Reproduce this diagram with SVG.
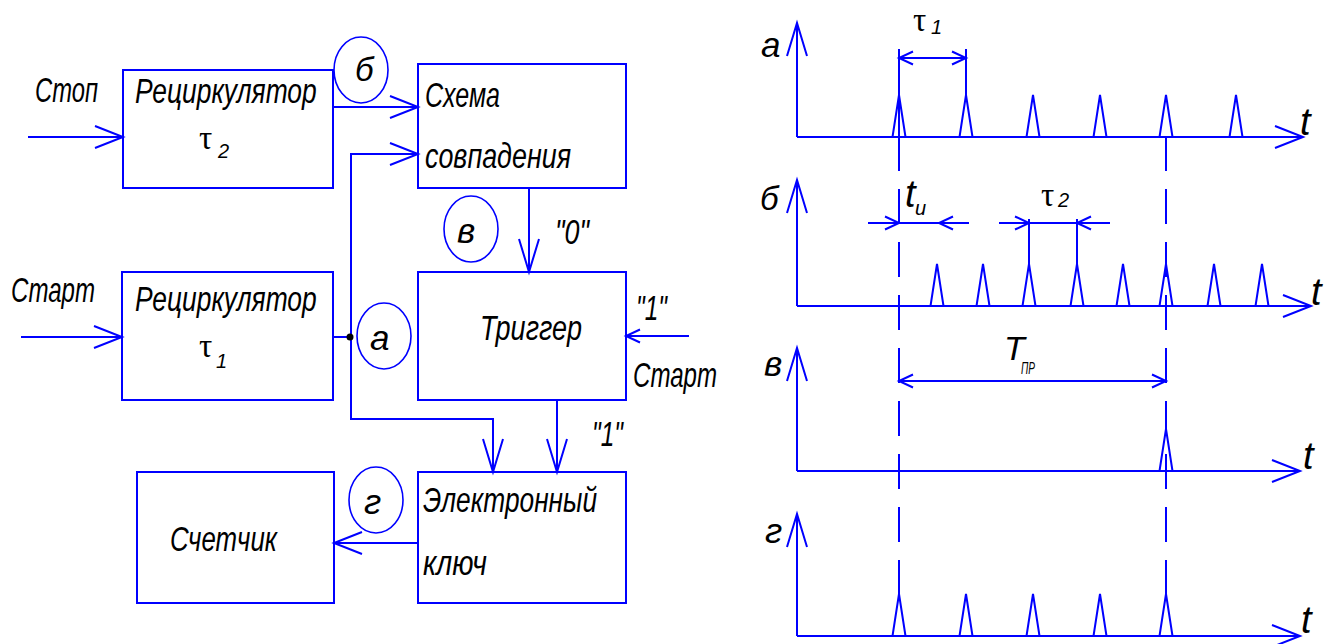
<svg xmlns="http://www.w3.org/2000/svg" width="1327" height="644" viewBox="0 0 1327 644">
<style>
.ln{stroke:#0000ff;stroke-width:2;fill:none}
.bx{stroke:#0000ff;stroke-width:2;fill:none}
.cr{stroke:#0000ff;stroke-width:1.6;fill:none}
.dash{stroke:#0000ff;stroke-width:2;fill:none;stroke-dasharray:35 18}
.t{font-family:"Liberation Sans Narrow","Liberation Sans","DejaVu Sans",sans-serif;font-style:italic;font-size:35px;fill:#000}
.ts{font-family:"Liberation Sans Narrow","Liberation Sans","DejaVu Sans",sans-serif;font-style:italic;font-size:20px;fill:#000}
.tau{font-family:"Liberation Serif","DejaVu Serif",serif;font-size:33px;fill:#000}
.tl{font-family:"Liberation Sans Narrow","Liberation Sans","DejaVu Sans",sans-serif;font-style:italic;font-size:38px;fill:#000}
</style>
<defs>
<marker id="aL" markerUnits="userSpaceOnUse" orient="auto" overflow="visible" markerWidth="30" markerHeight="24" refX="0" refY="0"><path d="M-28,-11 L0,0 L-28,11" fill="none" stroke="#0000ff" stroke-width="2"/></marker>
<marker id="aD" markerUnits="userSpaceOnUse" orient="auto" overflow="visible" markerWidth="34" markerHeight="22" refX="0" refY="0"><path d="M-33,-10 L0,0 L-33,10" fill="none" stroke="#0000ff" stroke-width="2"/></marker>
<marker id="aS" markerUnits="userSpaceOnUse" orient="auto" overflow="visible" markerWidth="16" markerHeight="14" refX="0" refY="0"><path d="M-14,-6.5 L0,0 L-14,6.5" fill="none" stroke="#0000ff" stroke-width="2"/></marker>
<marker id="aSS" markerUnits="userSpaceOnUse" orient="auto-start-reverse" overflow="visible" markerWidth="16" markerHeight="14" refX="0" refY="0"><path d="M-14,-6.5 L0,0 L-14,6.5" fill="none" stroke="#0000ff" stroke-width="2"/></marker>
<path id="p42" d="M-6.5,0 L0,-42 L6.5,0" fill="none" stroke="#0000ff" stroke-width="2"/>
</defs>

<!-- Block diagram nodes -->
<g id="rec2">
<rect class="bx" x="123" y="70" width="210" height="118"/>
<text class="t" transform="translate(135,103) scale(0.79,1)" x="0" y="0" textLength="230" lengthAdjust="spacingAndGlyphs">Рециркулятор</text>
<text class="tau" x="199" y="149">τ</text>
<text class="ts" x="218" y="158">2</text>
</g>
<g id="rec1">
<rect class="bx" x="122" y="272" width="211" height="128"/>
<text class="t" transform="translate(135,311) scale(0.79,1)" x="0" y="0" textLength="230" lengthAdjust="spacingAndGlyphs">Рециркулятор</text>
<text class="tau" x="199" y="357">τ</text>
<text class="ts" x="216" y="368">1</text>
</g>
<g id="coinc">
<rect class="bx" x="418" y="64" width="208" height="124"/>
<text class="t" x="425" y="107" textLength="75" lengthAdjust="spacingAndGlyphs">Схема</text>
<text class="t" x="425" y="168" textLength="146" lengthAdjust="spacingAndGlyphs">совпадения</text>
</g>
<g id="trigger">
<rect class="bx" x="418" y="272" width="208" height="128"/>
<text class="t" x="480" y="340" textLength="102" lengthAdjust="spacingAndGlyphs">Триггер</text>
</g>
<g id="key">
<rect class="bx" x="418" y="472" width="208" height="131"/>
<text class="t" x="423" y="512" textLength="174" lengthAdjust="spacingAndGlyphs">Электронный</text>
<text class="t" x="423" y="575" textLength="64" lengthAdjust="spacingAndGlyphs">ключ</text>
</g>
<g id="counter">
<rect class="bx" x="137" y="472" width="197" height="131"/>
<text class="t" x="170" y="551" textLength="107" lengthAdjust="spacingAndGlyphs">Счетчик</text>
</g>

<g id="labels">
<text class="t" x="35" y="102" textLength="63" lengthAdjust="spacingAndGlyphs">Стоп</text>
<text class="t" x="11" y="302" textLength="84" lengthAdjust="spacingAndGlyphs">Старт</text>
<text class="t" x="633" y="387" textLength="84" lengthAdjust="spacingAndGlyphs">Старт</text>
<text class="t" x="555" y="244" textLength="34" lengthAdjust="spacingAndGlyphs">"0"</text>
<text class="t" x="636" y="320" textLength="31" lengthAdjust="spacingAndGlyphs">"1"</text>
<text class="t" x="592" y="446" textLength="31" lengthAdjust="spacingAndGlyphs">"1"</text>
</g>

<g id="markers-circles">
<ellipse class="cr" cx="361" cy="70" rx="27" ry="33"/>
<text class="t" x="355" y="81" style="font-size:33px">б</text>
<ellipse class="cr" cx="471" cy="229" rx="27" ry="33"/>
<text class="t" x="457" y="243">в</text>
<ellipse class="cr" cx="384" cy="336" rx="27" ry="33"/>
<text class="t" x="370" y="350">а</text>
<ellipse class="cr" cx="376" cy="500" rx="27" ry="33"/>
<text class="t" x="364" y="514">г</text>
</g>

<g id="connectors">
<path class="ln" d="M28,137 H123" marker-end="url(#aL)"/>
<path class="ln" d="M333,107 H418" marker-end="url(#aL)"/>
<path class="ln" d="M351,337 V154 H418" marker-end="url(#aL)"/>
<path class="ln" d="M333,337 H351 V419 H493 V472" marker-end="url(#aD)"/>
<circle cx="350" cy="337" r="3.5" fill="#000"/>
<path class="ln" d="M21,337 H122" marker-end="url(#aL)"/>
<path class="ln" d="M529,188 V272" marker-end="url(#aD)"/>
<path class="ln" d="M689,336 H626" marker-end="url(#aS)"/>
<path class="ln" d="M557,400 V472" marker-end="url(#aD)"/>
<path class="ln" d="M418,543 H334" marker-end="url(#aL)"/>
</g>

<!-- Timing diagrams -->
<g id="chart-a">
<path class="ln" d="M797,137 V23" marker-end="url(#aD)"/>
<path class="ln" d="M797,137 H1303" marker-end="url(#aL)"/>
<text class="t" x="761" y="57">а</text>
<text class="tl" x="1300" y="135">t</text>
<use href="#p42" x="899" y="137"/><use href="#p42" x="966" y="137"/><use href="#p42" x="1033" y="137"/>
<use href="#p42" x="1100" y="137"/><use href="#p42" x="1166" y="137"/><use href="#p42" x="1236" y="137"/>
<path class="ln" d="M899,49 V137 M966,49 V95"/>
<path class="ln" d="M899,58 H966" marker-start="url(#aSS)" marker-end="url(#aSS)"/>
<text class="tau" x="913" y="31">τ</text>
<text class="ts" x="931" y="34">1</text>
</g>
<g id="chart-b">
<path class="ln" d="M797,306 V180" marker-end="url(#aD)"/>
<path class="ln" d="M797,306 H1311" marker-end="url(#aL)"/>
<text class="t" x="760" y="210" style="font-size:33px">б</text>
<text class="tl" x="1311" y="305">t</text>
<use href="#p42" x="937" y="306"/><use href="#p42" x="983" y="306"/><use href="#p42" x="1029" y="306"/>
<use href="#p42" x="1077" y="306"/><use href="#p42" x="1123" y="306"/><use href="#p42" x="1166" y="306"/>
<use href="#p42" x="1214" y="306"/><use href="#p42" x="1262" y="306"/>
<path class="ln" d="M1029,219 V264 M1077,219 V264"/>
<path class="ln" d="M868,223 H899" marker-end="url(#aS)"/>
<path class="ln" d="M899,223 H969"/>
<path class="ln" d="M969,223 H939" marker-end="url(#aS)"/>
<path class="ln" d="M999,223 H1029" marker-end="url(#aS)"/>
<path class="ln" d="M1029,223 H1110"/>
<path class="ln" d="M1110,223 H1077" marker-end="url(#aS)"/>
<text class="tl" x="905" y="207">t</text>
<text class="ts" x="915" y="215">и</text>
<text class="tau" x="1041" y="206">τ</text>
<text class="ts" x="1058" y="207">2</text>
</g>
<g id="chart-v">
<path class="ln" d="M797,471 V348" marker-end="url(#aD)"/>
<path class="ln" d="M797,471 H1300" marker-end="url(#aL)"/>
<text class="t" x="764" y="376">в</text>
<text class="tl" x="1303" y="469">t</text>
<use href="#p42" x="1166" y="471"/>
<path class="ln" d="M899,381 H1166" marker-start="url(#aSS)" marker-end="url(#aSS)"/>
<text class="tl" x="1004" y="360" style="font-size:34px">T</text>
<text class="ts" x="1021" y="374" style="font-size:16px" textLength="14" lengthAdjust="spacingAndGlyphs">ПР</text>
</g>
<g id="chart-g">
<path class="ln" d="M797,636 V514" marker-end="url(#aD)"/>
<path class="ln" d="M797,636 H1300" marker-end="url(#aL)"/>
<text class="t" x="765" y="543">г</text>
<text class="tl" x="1301" y="633">t</text>
<use href="#p42" x="899" y="636"/><use href="#p42" x="966" y="636"/><use href="#p42" x="1033" y="636"/>
<use href="#p42" x="1100" y="636"/><use href="#p42" x="1166" y="636"/>
</g>
<g id="time-marks">
<path class="dash" d="M899,136 V594 M1166,136 V594"/>
</g>
</svg>
